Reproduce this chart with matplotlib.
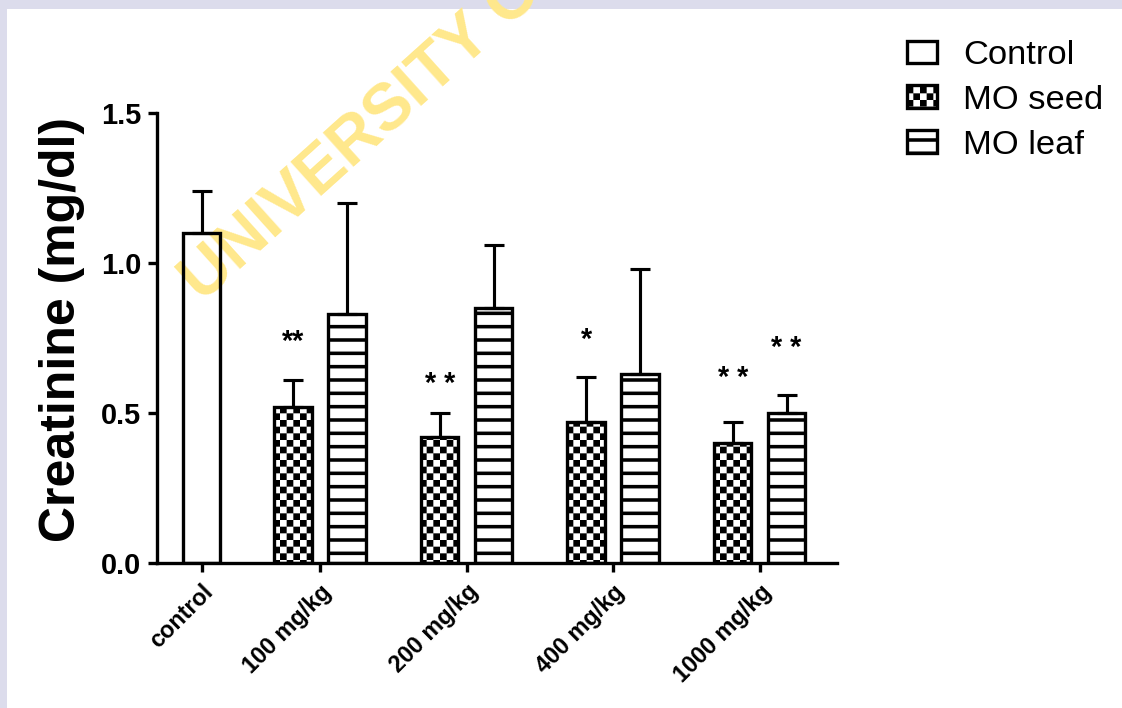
import warnings
import numpy as np
import matplotlib
matplotlib.use("Agg")
import matplotlib.pyplot as plt
from matplotlib import hatch as mhatch
from matplotlib.path import Path
from matplotlib.patches import Rectangle

warnings.filterwarnings("ignore")

# ---- data -------------------------------------------------------------
doses = ["control", "100 mg/kg", "200 mg/kg", "400 mg/kg", "1000 mg/kg"]
control_mean = [1.10]
control_sd = [0.14]
seed_mean = [0.52, 0.42, 0.47, 0.40]
seed_sd = [0.09, 0.08, 0.15, 0.07]
leaf_mean = [0.83, 0.85, 0.63, 0.50]
leaf_sd = [0.37, 0.21, 0.35, 0.06]
seed_marks = ["**", "* *", "*", "* *"]
leaf_marks = ["", "", "", "* *"]
series_names = ["Control", "MO seed", "MO leaf"]

# ---- layout -----------------------------------------------------------
DPI = 80
W, H = 1122, 708
group_pos = np.array([0.0, 0.81, 1.81, 2.81, 3.81])
bar_w = 0.256
pair_off = 0.184
seed_mark_y = [0.766, 0.627, 0.773, 0.647]
leaf_mark_y = [None, None, None, 0.747]

plt.rcParams["font.family"] = ["Liberation Sans", "DejaVu Sans"]
plt.rcParams["hatch.linewidth"] = 3.2
plt.rcParams["hatch.color"] = "black"
HATCH_LW_PX = 3.2 * DPI / 72.0


class CheckerHatch(mhatch.HatchPatternBase):
    """Filled checkerboard cells, selected with the 'k' hatch letter."""
    cells = 12

    def __init__(self, hatch, density):
        self.n = self.cells if "k" in hatch else 0
        self.num_vertices = (self.n * self.n // 2) * 5

    def set_vertices_and_codes(self, vertices, codes):
        n = self.n
        cell = 1.0 / n
        half = max(cell - HATCH_LW_PX / DPI, 0.002) / 2.0
        k = 0
        for i in range(n):
            for j in range(n):
                if (i + j) % 2:
                    continue
                cx, cy = (i + 0.5) * cell, (j + 0.5) * cell
                vertices[k:k + 5] = [[cx - half, cy - half], [cx + half, cy - half],
                                     [cx + half, cy + half], [cx - half, cy + half],
                                     [cx - half, cy - half]]
                codes[k:k + 5] = [Path.MOVETO, Path.LINETO, Path.LINETO,
                                  Path.LINETO, Path.CLOSEPOLY]
                k += 5


mhatch._hatch_types.append(CheckerHatch)

fig = plt.figure(figsize=(W / DPI, H / DPI), dpi=DPI, facecolor="white")

# lavender frame along the top and left edges
band = "#DCDCEC"
fig.patches.append(Rectangle((0, 1 - 9 / H), 1, 9 / H, transform=fig.transFigure,
                             facecolor=band, edgecolor="none", zorder=-3))
fig.patches.append(Rectangle((0, 0), 7 / W, 1, transform=fig.transFigure,
                             facecolor=band, edgecolor="none", zorder=-3))

# watermark
fig.text(203 / W, 1 - 304 / H, "UNIVERSITY OF", rotation=42, rotation_mode="anchor",
         ha="left", va="baseline", fontsize=59, fontweight="bold",
         color="#FFE88C", zorder=-2)

ax = fig.add_axes([157 / W, 1 - 563 / H, (837 - 157) / W, (563 - 113) / H])
ax.set_facecolor("none")
ax.set_zorder(0)

LW = 3.0
err_kw = dict(fmt="none", ecolor="black", elinewidth=2.8, capsize=9, capthick=2.8,
              zorder=3)

seed_x = group_pos[1:] - pair_off
leaf_x = group_pos[1:] + pair_off

b0 = ax.bar(group_pos[:1], control_mean, width=bar_w, facecolor="none",
            edgecolor="black", linewidth=LW, label=series_names[0], zorder=2)
b1 = ax.bar(seed_x, seed_mean, width=bar_w, facecolor="white", edgecolor="black",
            linewidth=LW, hatch="k", label=series_names[1], zorder=2)
b2 = ax.bar(leaf_x, leaf_mean, width=bar_w, facecolor="white", edgecolor="black",
            linewidth=LW, hatch="-", label=series_names[2], zorder=2)

ax.errorbar(group_pos[:1], control_mean, yerr=[np.zeros(1), control_sd], **err_kw)
ax.errorbar(seed_x, seed_mean, yerr=[np.zeros(len(seed_sd)), seed_sd], **err_kw)
ax.errorbar(leaf_x, leaf_mean, yerr=[np.zeros(len(leaf_sd)), leaf_sd], **err_kw)

STAR_FS = 26
for xs, marks, ys in ((seed_x, seed_marks, seed_mark_y), (leaf_x, leaf_marks, leaf_mark_y)):
    for x, m, y in zip(xs, marks, ys):
        if m:
            ax.annotate(m, xy=(x, y), xytext=(0, -0.59 * STAR_FS), textcoords="offset points",
                        ha="center", va="baseline", fontsize=STAR_FS, fontweight="bold")

ax.set_xlim(-0.304, 4.338)
ax.set_ylim(0, 1.5)
ax.set_yticks([0.0, 0.5, 1.0, 1.5])
ax.set_yticklabels(["0.0", "0.5", "1.0", "1.5"], fontsize=26, fontweight="bold")
ax.set_xticks(group_pos)
ax.set_xticklabels(doses, fontsize=21, fontweight="bold", rotation=45,
                   ha="right", va="top", rotation_mode="anchor")

for s in ("top", "right"):
    ax.spines[s].set_visible(False)
for s in ("left", "bottom"):
    ax.spines[s].set_linewidth(LW)
ax.tick_params(axis="both", direction="out", length=8.5, width=LW, color="black")
ax.tick_params(axis="y", pad=6)
ax.tick_params(axis="x", pad=7)

fig.text(62 / W, 1 - 330 / H, "Creatinine (mg/dl)", rotation=90, ha="center",
         va="center", fontsize=45, fontweight="bold")

fig.legend(handles=[b0, b1, b2], labels=series_names, loc="upper left",
           bbox_to_anchor=(907 / W, 1 - 40 / H), bbox_transform=fig.transFigure,
           frameon=False, fontsize=31, handlelength=0.87, handleheight=0.64,
           handletextpad=0.75, labelspacing=0.40, borderpad=0, borderaxespad=0)

fig.savefig("out.png", dpi=DPI, facecolor="white")
